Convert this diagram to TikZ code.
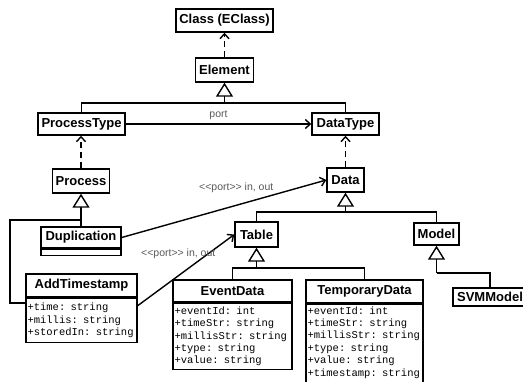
\documentclass[tikz,border=0pt]{standalone}
\usepackage{fontspec}
\setmainfont{Liberation Sans}
\newfontfamily\monof{Liberation Mono}
\usetikzlibrary{arrows.meta}
\begin{document}
\begin{tikzpicture}[x=1pt,y=-1pt,
  line width=1.4pt,
  title/.style={draw, fill=white, inner sep=0pt, font=\fontsize{13}{15}\selectfont\bfseries},
  attr/.style={draw, fill=white, anchor=north west, inner xsep=1.5pt, inner ysep=2pt, align=left, font=\monof\fontsize{10.5}{12.8}\selectfont},
  gen/.style={-{Triangle[fill=white, length=14pt, width=17pt, line width=1.4pt]}},
  dep/.style={dash pattern=on 6pt off 4pt, -{Straight Barb[length=5pt, width=9pt]}},
  assoc/.style={-{Straight Barb[length=5pt, width=9pt]}},
  lbl/.style={font=\fontsize{10.5}{12}\selectfont, text=black!65, inner sep=0pt}
]
\useasboundingbox (0,0) rectangle (523,381);
\fill[white] (0,0) rectangle (523,381);
\clip (0,0) rectangle (523,381);

% classes
\node[title, minimum width=97pt, minimum height=23pt] (cls) at (224.5,20.5) {Class (EClass)};
\node[title, minimum width=58pt, minimum height=24pt] (elem) at (224.5,70) {Element};
\node[title, minimum width=87pt, minimum height=22pt] (pt) at (81.5,124) {ProcessType};
\node[title, minimum width=67pt, minimum height=22pt] (dt) at (345.5,124) {DataType};
\node[title, minimum width=57pt, minimum height=24pt] (proc) at (81,181) {Process};
\node[title, minimum width=80pt, minimum height=21pt] (dup) at (81,237.5) {Duplication};
\node[draw, fill=white, anchor=north west, minimum width=80pt, minimum height=6pt, inner sep=0pt] (dupA) at (dup.south west) {};
\node[title, minimum width=37pt, minimum height=24pt] (data) at (345.5,180) {Data};
\node[title, minimum width=43pt, minimum height=25pt] (table) at (256.5,234.5) {Table};
\node[title, minimum width=45pt, minimum height=22pt] (model) at (436.5,234) {Model};
\node[title, minimum width=74pt, minimum height=18pt] (svm) at (490,297) {SVMModel};

\node[title, minimum width=111pt, minimum height=23pt] (at) at (81.5,285.5) {AddTimestamp};
\node[attr, minimum width=111pt, minimum height=44pt, text width=108pt] (atA) at (at.south west)
  {+time: string\\+millis: string\\+storedIn: string};

\node[title, minimum width=119pt, minimum height=22pt] (ev) at (232.5,291) {EventData};
\node[attr, minimum width=119pt, minimum height=66pt, text width=116pt, font=\monof\fontsize{10.5}{12.4}\selectfont] (evA) at (ev.south west)
  {+eventId: int\\+timeStr: string\\+millisStr: string\\+type: string\\+value: string};

\node[title, minimum width=117pt, minimum height=23pt] (tmp) at (364.5,291.5) {TemporaryData};
\node[attr, minimum width=117pt, text width=114pt, font=\monof\fontsize{10.5}{12.4}\selectfont] (tmpA) at (tmp.south west)
  {+eventId: int\\+timeStr: string\\+millisStr: string\\+type: string\\+value: string\\+timestamp: string\\~};

% connectors
\draw[dep] (elem.north) -- (elem.north |- cls.south);
\coordinate (j1) at (224.5,103);
\draw (pt.north) |- (j1) -| (dt.north);
\draw[gen] (j1) -- (elem.south);
\draw[assoc] (pt.east) -- node[lbl, above=4pt]{port} (dt.west);

\draw[dep] (proc.north) -- (proc.north |- pt.south);
\draw[dep] (data.north) -- (dt.south);

\coordinate (j2) at (81,220);
\coordinate (j2b) at (10,303);
\draw (dup.north) -- (j2) -| (j2b) -- (j2b -| atA.west);
\draw[gen] (j2) -- (proc.south);

\draw[assoc] (dup.east) -- node[lbl, pos=0.56, yshift=18pt]{{<}{<}port{>}{>} in, out} (data.west);
\draw[assoc] ([yshift=-8pt]atA.north east) -- node[lbl, pos=0.42, yshift=22pt]{{<}{<}port{>}{>} in, out} (table.west);

\coordinate (j3) at (345.5,212);
\draw (table.north) |- (j3) -| (model.north);
\draw[gen] (j3) -- (data.south);

\coordinate (j4) at (256.5,268);
\draw (ev.north) |- (j4) -| (tmp.north);
\draw[gen] (j4) -- (table.south);

\coordinate (j5) at (436.5,273);
\draw (j5) -| (svm.north);
\draw[gen] (j5) -- (model.south);
\end{tikzpicture}
\end{document}
